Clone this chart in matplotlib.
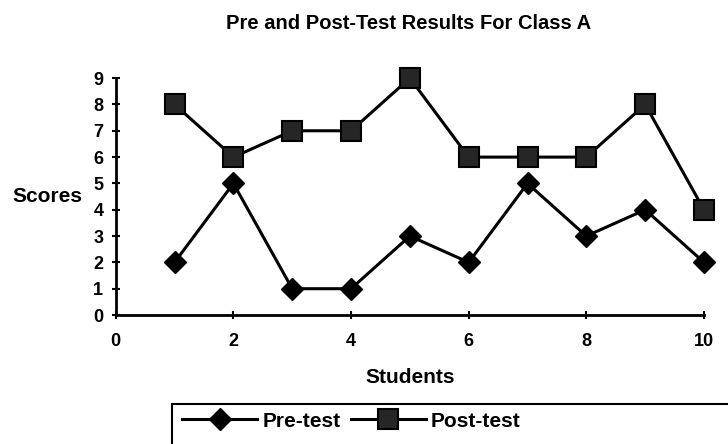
import matplotlib.pyplot as plt
import matplotlib.patches as patches
import matplotlib
matplotlib.rcParams['font.family'] = 'Liberation Sans'
matplotlib.rcParams['font.weight'] = 'bold'

students = [1, 2, 3, 4, 5, 6, 7, 8, 9, 10]
pre_test = [2, 5, 1, 1, 3, 2, 5, 3, 4, 2]
post_test = [8, 6, 7, 7, 9, 6, 6, 6, 8, 4]
legends = ["Pre-test", "Post-test"]

fig = plt.figure(figsize=(7.28, 4.44), dpi=100)
ax = fig.add_axes([0.159, 0.2905, 0.808, 0.5335])

l1, = ax.plot(students, pre_test, color='black', lw=2.2, marker='D', ms=11,
              mfc='black', mec='black', clip_on=False, zorder=3)
l2, = ax.plot(students, post_test, color='black', lw=2.2, marker='s', ms=14,
              mfc='#262626', mec='black', mew=1.5, clip_on=False, zorder=3)

ax.set_xlim(0, 10)
ax.set_ylim(0, 9)
ax.set_xticks(range(0, 11, 2))
ax.set_yticks(range(0, 10))
for s in ['top', 'right']:
    ax.spines[s].set_visible(False)
for s in ['left', 'bottom']:
    ax.spines[s].set_linewidth(2)
ax.tick_params(direction='inout', length=6, width=1.5, labelsize=13)
ax.tick_params(axis='x', pad=10)
ax.tick_params(axis='y', pad=6)

fig.text(0.561, 0.947, "Pre and Post-Test Results For Class A", ha='center',
         va='center', fontsize=14.5, fontweight='bold')
fig.text(0.017, 0.558, "Scores", ha='left', va='center', fontsize=15,
         fontweight='bold')
fig.text(0.563, 0.149, "Students", ha='center', va='center', fontsize=15,
         fontweight='bold')

rect = patches.Rectangle((172 / 728, -0.05), 0.8, 0.05 + (444 - 404) / 444,
                         transform=fig.transFigure, fill=False, lw=1.5,
                         edgecolor='black', clip_on=False)
fig.patches.append(rect)

fig.legend([l1, l2], legends, loc='center left',
           bbox_to_anchor=(182 / 728, 1 - 421 / 444), frameon=False,
           ncol=2, handlelength=3.6, handletextpad=0.25, columnspacing=0.5,
           prop={'size': 15, 'weight': 'bold'}, borderaxespad=0,
           borderpad=0)

plt.savefig("out.png", dpi=100)
